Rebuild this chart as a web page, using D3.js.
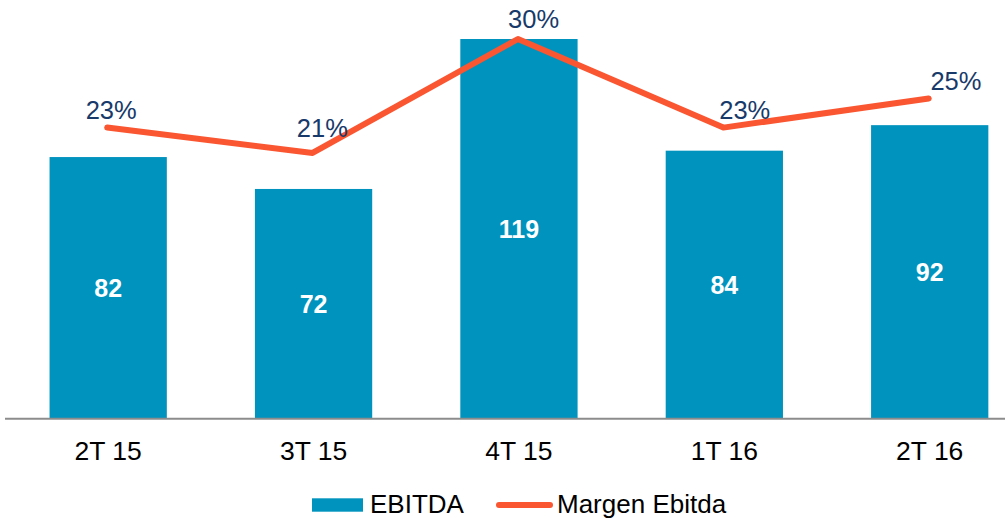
<!DOCTYPE html>
<html>
<head>
<meta charset="utf-8">
<script src="https://cdn.jsdelivr.net/npm/d3@7/dist/d3.min.js"></script>
<style>
  html, body { margin: 0; padding: 0; background: #fff; }
  svg { display: block; font-family: "Liberation Sans", Arial, sans-serif; }
</style>
</head>
<body>
<svg class="js-chart" width="1005" height="519"></svg>
<script>
var categories = ['2T 15', '3T 15', '4T 15', '1T 16', '2T 16'],
    ebitda = [82, 72, 119, 84, 92],
    margin = [23.0, 21.0, 30.0, 23.0, 25.3],
    marginLabels = ['23%', '21%', '30%', '23%', '25%'];

var BAR_COLOR = '#0093be',
    LINE_COLOR = '#fa5632',
    LABEL_COLOR = '#173a6a',
    BASE_Y = 418.7,
    TOP_Y = 39;

var svg = d3.select('.js-chart');

var x = d3.scaleBand()
    .domain(categories)
    .range([5.5, 1032.4])
    .paddingInner(0.429)
    .paddingOuter(0.2145);

var yBar = d3.scaleLinear().domain([0, 119]).range([BASE_Y, TOP_Y]);
var yLine = d3.scaleLinear().domain([0, 30]).range([BASE_Y, TOP_Y]);

// bars
svg.append('g').selectAll('rect')
    .data(ebitda)
    .enter()
    .append('rect')
    .attr('x', function(d, i) { return x(categories[i]); })
    .attr('y', function(d) { return yBar(d); })
    .attr('width', x.bandwidth())
    .attr('height', function(d) { return BASE_Y - yBar(d); })
    .attr('fill', BAR_COLOR);

// bar values
svg.append('g').selectAll('text')
    .data(ebitda)
    .enter()
    .append('text')
    .attr('x', function(d, i) { return x(categories[i]) + x.bandwidth() / 2; })
    .attr('y', function(d) { return (yBar(d) + BASE_Y) / 2 + 9; })
    .attr('text-anchor', 'middle')
    .attr('font-size', 25)
    .attr('font-weight', 'bold')
    .attr('fill', '#fff')
    .text(function(d) { return d; });

// x axis
var xAxis = svg.append('g')
    .attr('transform', 'translate(0,' + BASE_Y + ')')
    .call(d3.axisBottom(x).tickSize(0).tickPadding(22));
xAxis.select('.domain').remove();
xAxis.append('line')
    .attr('x1', 5).attr('x2', 1005)
    .attr('stroke', '#8c8c8c').attr('stroke-width', 2);
xAxis.selectAll('text')
    .attr('font-size', 26.5)
    .attr('font-family', '"Liberation Sans", Arial, sans-serif')
    .attr('fill', '#000');

// margin line
var cx = function(d, i) { return x(categories[i]) + x.bandwidth() / 2 - 1; };
svg.append('path')
    .datum(margin)
    .attr('d', d3.line().x(cx).y(function(d) { return yLine(d); }))
    .attr('fill', 'none')
    .attr('stroke', LINE_COLOR)
    .attr('stroke-width', 6)
    .attr('stroke-linecap', 'round')
    .attr('stroke-linejoin', 'round');

// margin labels (excel nudges them a bit right as it goes)
var nudgeY = [-9, -16, -11, -9, -8];
svg.append('g').selectAll('text')
    .data(margin)
    .enter()
    .append('text')
    .attr('x', function(d, i) { return cx(d, i) + 4 + i * 5.8; })
    .attr('y', function(d, i) { return yLine(d) + nudgeY[i]; })
    .attr('text-anchor', 'middle')
    .attr('font-size', 25.5)
    .attr('fill', LABEL_COLOR)
    .text(function(d, i) { return marginLabels[i]; });

// legend
var legend = svg.append('g');
legend.append('rect')
    .attr('x', 312).attr('y', 498.3)
    .attr('width', 51).attr('height', 13.4)
    .attr('fill', BAR_COLOR);
legend.append('text')
    .attr('x', 370).attr('y', 513.3)
    .attr('font-size', 26)
    .attr('fill', '#000')
    .text('EBITDA');
legend.append('line')
    .attr('x1', 499).attr('x2', 550)
    .attr('y1', 505).attr('y2', 505)
    .attr('stroke', LINE_COLOR)
    .attr('stroke-width', 6)
    .attr('stroke-linecap', 'round');
legend.append('text')
    .attr('x', 557).attr('y', 513.3)
    .attr('font-size', 26)
    .attr('fill', '#000')
    .text('Margen Ebitda');
</script>
</body>
</html>
